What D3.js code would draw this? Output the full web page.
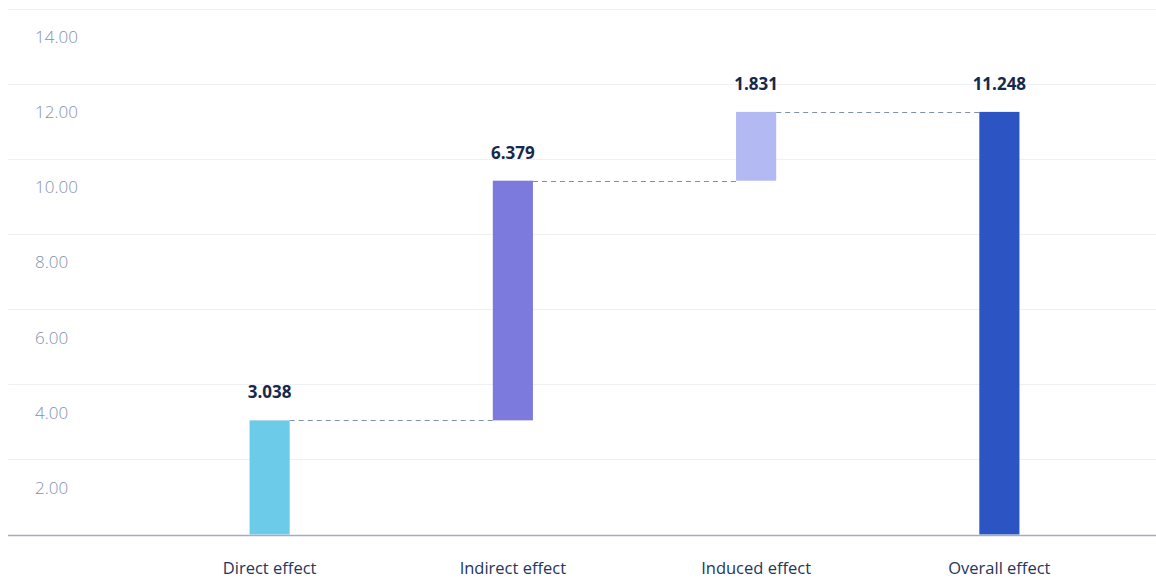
<!DOCTYPE html>
<html>
<head>
<meta charset="utf-8">
<script src="https://cdn.jsdelivr.net/npm/d3@7/dist/d3.min.js"></script>
<style>
  html, body { margin: 0; padding: 0; background: #ffffff; }
  svg { display: block; }
</style>
</head>
<body>
<svg id="chart" width="1156" height="581"></svg>
<script>
// Waterfall of economic effects
const categories = ["Direct effect", "Indirect effect", "Induced effect", "Overall effect"];
const values = [3.038, 6.379, 1.831, 11.248];
const isTotal = [false, false, false, true];
const barColors = ["#6dcbea", "#7c7adc", "#b3b9f2", "#2c54c3"];
const yTicks = [2, 4, 6, 8, 10, 12, 14];
const gridValues = [0, 2, 4, 6, 8, 10, 12, 14];

const W = 1156, H = 581;
const svg = d3.select("#chart");

const y = d3.scaleLinear().domain([0, 14]).range([534.5, 8.5]);
const x = d3.scaleBand().domain(categories).range([148, 1121]).paddingInner(0.835).paddingOuter(0.4175);

// running start/end for each step
let running = 0;
const steps = values.map((v, i) => {
  let start, end;
  if (isTotal[i]) { start = 0; end = v; running = v; }
  else { start = running; end = running + v; running = end; }
  return { cat: categories[i], value: v, start, end, color: barColors[i] };
});

// grid lines
svg.append("g").selectAll("line").data(gridValues.slice(1)).join("line")
  .attr("x1", 8).attr("x2", W)
  .attr("y1", d => Math.round(y(d)) + 0.5).attr("y2", d => Math.round(y(d)) + 0.5)
  .attr("stroke", "#eef0f5").attr("stroke-width", 1);

// y tick labels (sit below their grid line)
svg.append("g").selectAll("text").data(yTicks).join("text")
  .attr("x", 35).attr("y", d => y(d) + 30)
  .attr("dominant-baseline", "middle")
  .attr("font-family", "'Open Sans', sans-serif")
  .attr("font-size", 17)
  .attr("font-weight", 300)
  .attr("fill", "#8391af")
  .text(d => d.toFixed(2));

// connectors between consecutive steps
const connectors = steps.slice(0, -1).map((s, i) => ({ from: s, to: steps[i + 1] }));
svg.append("g").selectAll("line").data(connectors).join("line")
  .attr("x1", d => x(d.from.cat) + x.bandwidth())
  .attr("x2", d => x(d.to.cat))
  .attr("y1", d => Math.round(y(d.from.end)) + 0.5)
  .attr("y2", d => Math.round(y(d.from.end)) + 0.5)
  .attr("stroke", "#7f8fae").attr("stroke-width", 1)
  .attr("stroke-dasharray", "5,4");

// bars
svg.append("g").selectAll("rect").data(steps).join("rect")
  .attr("x", d => x(d.cat))
  .attr("width", x.bandwidth())
  .attr("y", d => y(Math.max(d.start, d.end)))
  .attr("height", d => Math.abs(y(d.start) - y(d.end)))
  .attr("fill", d => d.color);

// value labels
svg.append("g").selectAll("text").data(steps).join("text")
  .attr("x", d => x(d.cat) + x.bandwidth() / 2)
  .attr("y", d => y(d.end) - 22)
  .attr("text-anchor", "middle")
  .attr("font-family", "'Open Sans', sans-serif")
  .attr("font-size", 17)
  .attr("font-weight", 700)
  .attr("fill", "#17294a")
  .text(d => d.value.toFixed(3));

// baseline
svg.append("line")
  .attr("x1", 8).attr("x2", W)
  .attr("y1", Math.round(y(0)) + 0.5).attr("y2", Math.round(y(0)) + 0.5)
  .attr("stroke", "#a3adbf").attr("stroke-width", 1.5);

// category labels
svg.append("g").selectAll("text").data(categories).join("text")
  .attr("x", d => x(d) + x.bandwidth() / 2)
  .attr("y", 570)
  .attr("dominant-baseline", "middle")
  .attr("text-anchor", "middle")
  .attr("font-family", "'Open Sans', sans-serif")
  .attr("font-size", 16.5)
  .attr("fill", "#24365a")
  .text(d => d);
</script>
</body>
</html>
